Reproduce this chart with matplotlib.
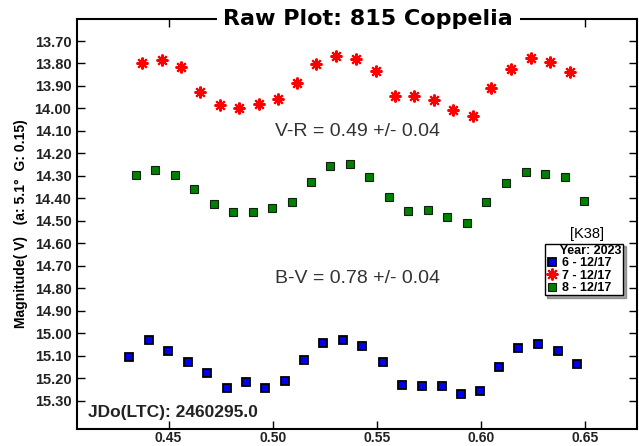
import numpy as np
import matplotlib.pyplot as plt

plt.rcParams['font.family'] = ['Liberation Sans', 'DejaVu Sans']

# session 6 (blue), 7 (red), 8 (green) - phase / magnitude
phase_6 = [0.4311, 0.4405, 0.4499, 0.4592, 0.4686, 0.4781, 0.4872, 0.4965, 0.5060, 0.5150,
           0.5243, 0.5339, 0.5430, 0.5528, 0.5623, 0.5716, 0.5811, 0.5903, 0.5996, 0.6089,
           0.6180, 0.6275, 0.6369, 0.6462]
mag_6 = [15.108, 15.032, 15.078, 15.127, 15.179, 15.244, 15.219, 15.243, 15.213, 15.121,
         15.044, 15.032, 15.059, 15.130, 15.229, 15.235, 15.235, 15.269, 15.259, 15.149,
         15.066, 15.047, 15.081, 15.139]

phase_7 = [0.4370, 0.4468, 0.4561, 0.4652, 0.4745, 0.4838, 0.4934, 0.5025, 0.5119, 0.5208,
           0.5304, 0.5400, 0.5496, 0.5587, 0.5681, 0.5774, 0.5867, 0.5962, 0.6051, 0.6147,
           0.6242, 0.6333, 0.6430]
mag_7 = [13.799, 13.784, 13.814, 13.925, 13.983, 13.999, 13.980, 13.959, 13.889, 13.803,
         13.765, 13.781, 13.832, 13.943, 13.944, 13.962, 14.006, 14.033, 13.907, 13.823,
         13.777, 13.795, 13.838]

phase_8 = [0.4343, 0.4436, 0.4530, 0.4624, 0.4717, 0.4811, 0.4907, 0.4997, 0.5092, 0.5185,
           0.5277, 0.5372, 0.5464, 0.5559, 0.5652, 0.5745, 0.5839, 0.5935, 0.6026, 0.6121,
           0.6216, 0.6309, 0.6402, 0.6493]
mag_8 = [14.295, 14.274, 14.295, 14.360, 14.425, 14.462, 14.462, 14.445, 14.416, 14.326,
         14.256, 14.247, 14.305, 14.393, 14.457, 14.451, 14.482, 14.511, 14.416, 14.331,
         14.283, 14.291, 14.305, 14.410]

labels = ['6 - 12/17', '7 - 12/17', '8 - 12/17']
xticks = [0.45, 0.50, 0.55, 0.60, 0.65]
yticks = np.round(np.arange(13.7, 15.31, 0.1), 2)

fig = plt.figure(figsize=(6.39, 4.46), dpi=100)
ax = fig.add_axes([0.1205, 0.039, 0.8764, 0.9184])

ax.plot(phase_6, mag_6, ls='none', marker='s', ms=6, mfc='#0000ee', mec='black', mew=1.3,
        label=labels[0], zorder=3)
ax.plot(phase_7, mag_7, ls='none', marker=(8, 2, 0), ms=8.5, color='#ff0000', mew=1.5,
        label=labels[1], zorder=3)
ax.plot(phase_8, mag_8, ls='none', marker='s', ms=5.5, mfc='#008000', mec='#102010', mew=0.8,
        label=labels[2], zorder=3)

ax.set_xlim(0.406, 0.675)
ax.set_ylim(15.425, 13.602)
ax.set_xticks(xticks)
ax.set_xticklabels(['%.2f' % t for t in xticks])
ax.set_yticks(yticks)
ax.set_yticklabels(['%.2f' % t for t in yticks])
ax.tick_params(direction='in', length=6, width=1, top=True, right=True,
               labelsize=10.5, labelcolor='#222222')
ax.tick_params(axis='y', pad=4)
ax.tick_params(axis='x', pad=1.5, labelsize=10)
for lab in ax.get_xticklabels() + ax.get_yticklabels():
    lab.set_fontweight('bold')
for sp in ax.spines.values():
    sp.set_linewidth(1.5)

ax.set_ylabel('Magnitude( V)   (a: 5.1°  G: 0.15)', fontsize=10, fontweight='bold', labelpad=5)

ax.text(0.52, 1.0, 'Raw Plot: 815 Coppelia', transform=ax.transAxes, ha='center', va='center',
        fontsize=16, fontweight='bold', family='DejaVu Sans', zorder=5,
        bbox=dict(boxstyle='square,pad=0.3', fc='white', ec='none'))
ax.text(0.5, 0.726, 'V-R = 0.49 +/- 0.04', transform=ax.transAxes, ha='center', va='center',
        fontsize=14, color='#333333')
ax.text(0.5, 0.366, 'B-V = 0.78 +/- 0.04', transform=ax.transAxes, ha='center', va='center',
        fontsize=14, color='#333333')
ax.text(0.02, 0.04, 'JDo(LTC): 2460295.0', transform=ax.transAxes, ha='left', va='center',
        fontsize=12.5, fontweight='bold', color='#222222')
ax.text(0.911, 0.476, '[K38]', transform=ax.transAxes, ha='center', va='center', fontsize=10.5)

leg = ax.legend(loc='upper right', bbox_to_anchor=(0.975, 0.4515), title='    Year: 2023',
                fancybox=False, shadow=True, framealpha=1, edgecolor='black',
                prop={'weight': 'bold', 'size': 9}, handlelength=0.9, handletextpad=0.4,
                borderpad=0.12, labelspacing=0.02, borderaxespad=0)
leg.get_title().set_fontweight('bold')
leg.get_title().set_fontsize(9)
leg._legend_box.align = 'left'

fig.savefig('out.png', dpi=100)
